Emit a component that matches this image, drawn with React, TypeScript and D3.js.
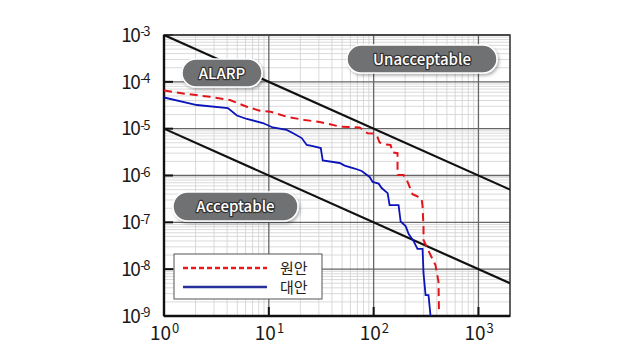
import React, { useEffect, useRef } from "react";
import * as d3 from "d3";

// axis ticks
const xTicks = [1, 10, 100, 1000];
const xTickExp = ["0", "1", "2", "3"];
const yTicks = [1e-3, 1e-4, 1e-5, 1e-6, 1e-7, 1e-8, 1e-9];
const yTickExp = ["-3", "-4", "-5", "-6", "-7", "-8", "-9"];

// 원안 (red dashed) F-N curve
const wonanX = [1, 1.66, 2.74, 4.25, 6.17, 8.2, 10.4, 14.8, 22, 30.6, 47.4, 73.6, 87.7, 100, 107, 114, 130, 145, 152, 169, 169, 193, 211, 235, 257, 287, 293, 299, 299, 349, 389, 416, 420];
const wonanY = [6.5e-5, 5.5e-5, 4.8e-5, 4.1e-5, 2.94e-5, 2.42e-5, 2.3e-5, 1.8e-5, 1.53e-5, 1.39e-5, 1.11e-5, 1.06e-5, 7.96e-6, 7.9e-6, 7.3e-6, 5.06e-6, 4.6e-6, 4.5e-6, 3.1e-6, 3.0e-6, 1.02e-6, 1.02e-6, 7.3e-7, 4.0e-7, 3.65e-7, 3.15e-7, 2.23e-7, 7.6e-8, 4.2e-8, 2.0e-8, 1.23e-8, 5.3e-9, 1.2e-9];

// 대안 (blue solid) F-N curve
const daeanX = [1, 2.06, 4.07, 4.96, 6.17, 8.77, 10.9, 14.8, 16.9, 20.6, 23, 25.7, 31.3, 32.7, 47.4, 52.9, 65.9, 76.9, 83.9, 91.6, 97.8, 111.6, 119.2, 136, 142, 173, 181, 202, 216, 240, 262, 293, 299, 313, 334, 349];
const daeanY = [4.63e-5, 3.2e-5, 2.76e-5, 1.91e-5, 1.61e-5, 1.32e-5, 1.06e-5, 9.4e-6, 8.1e-6, 6.3e-6, 4.5e-6, 4.27e-6, 3.86e-6, 2.09e-6, 1.85e-6, 1.63e-6, 1.41e-6, 1.25e-6, 1.08e-6, 9.3e-7, 7.3e-7, 6.7e-7, 5.4e-7, 4.2e-7, 2.34e-7, 2.34e-7, 1.04e-7, 8.3e-8, 5.6e-8, 4.0e-8, 2.7e-8, 2.7e-8, 8.3e-9, 2.8e-9, 2.8e-9, 1e-9];

// criteria lines
const limitX = [1, 2000];
const upperLimitY = [1e-3, 5e-7];
const lowerLimitY = [1e-5, 5e-9];

const regionLabels = ["Unacceptable", "ALARP", "Acceptable"];
const legendLabels = ["원안", "대안"];

const FONT = "'Noto Sans CJK KR', 'Noto Sans', sans-serif";

export default function App() {
  const ref = useRef<SVGSVGElement>(null);

  useEffect(() => {
    const svg = d3.select(ref.current);
    svg.selectAll("*").remove();

    const margin = { top: 35, left: 164 };
    const w = 346, h = 281;

    const g = svg.append("g").attr("transform", `translate(${margin.left},${margin.top})`);

    const x = d3.scaleLog().domain([1, 2000]).range([0, w]);
    const y = d3.scaleLog().domain([1e-9, 1e-3]).range([h, 0]);

    // minor grid
    const minorX: number[] = [];
    [1, 10, 100, 1000].forEach(d => { for (let k = 2; k <= 9; k++) if (d * k < 2000) minorX.push(d * k); });
    const minorY: number[] = [];
    yTicks.slice(1).forEach(d => { for (let k = 2; k <= 9; k++) minorY.push(d * k); });

    g.selectAll(".mx").data(minorX).join("line")
      .attr("x1", d => x(d)).attr("x2", d => x(d)).attr("y1", 0).attr("y2", h)
      .attr("stroke", "#d0d0d0").attr("stroke-width", 0.8);
    g.selectAll(".my").data(minorY).join("line")
      .attr("y1", d => y(d)).attr("y2", d => y(d)).attr("x1", 0).attr("x2", w)
      .attr("stroke", "#d0d0d0").attr("stroke-width", 0.8);

    // major grid
    g.append("g").selectAll("line").data(xTicks).join("line")
      .attr("x1", d => x(d)).attr("x2", d => x(d)).attr("y1", 0).attr("y2", h)
      .attr("stroke", "#666").attr("stroke-width", 1.3);
    g.append("g").selectAll("line").data(yTicks).join("line")
      .attr("y1", d => y(d)).attr("y2", d => y(d)).attr("x1", 0).attr("x2", w)
      .attr("stroke", "#666").attr("stroke-width", 1.3);

    // tick marks inward
    g.append("g").selectAll("line").data(yTicks).join("line")
      .attr("y1", d => y(d)).attr("y2", d => y(d)).attr("x1", 0).attr("x2", 9)
      .attr("stroke", "#111").attr("stroke-width", 2);
    g.append("g").selectAll("line").data(xTicks).join("line")
      .attr("x1", d => x(d)).attr("x2", d => x(d)).attr("y1", h).attr("y2", h - 9)
      .attr("stroke", "#111").attr("stroke-width", 2);

    // frame
    g.append("rect").attr("width", w).attr("height", h)
      .attr("fill", "none").attr("stroke", "#3a3a3a").attr("stroke-width", 1.6);
    g.append("line").attr("x1", 0).attr("x2", 0).attr("y1", 0).attr("y2", h)
      .attr("stroke", "#111").attr("stroke-width", 2.4);
    g.append("line").attr("x1", 0).attr("x2", w).attr("y1", h).attr("y2", h)
      .attr("stroke", "#111").attr("stroke-width", 2.4);

    g.append("clipPath").attr("id", "clip").append("rect").attr("width", w).attr("height", h);
    const plot = g.append("g").attr("clip-path", "url(#clip)");

    // criteria lines
    const lineFn = d3.line<number>().x((d, i) => x(limitX[i])).y(d => y(d));
    [upperLimitY, lowerLimitY].forEach(arr => {
      plot.append("path").attr("d", lineFn(arr)).attr("fill", "none")
        .attr("stroke", "#111").attr("stroke-width", 2.2);
    });

    // curves
    const curve = (xs: number[], ys: number[]) =>
      d3.line<number>().x(d => x(d)).y((d, i) => y(ys[i]))(xs);

    plot.append("path").attr("d", curve(daeanX, daeanY)).attr("fill", "none")
      .attr("stroke", "#0b14b8").attr("stroke-width", 1.8);
    plot.append("path").attr("d", curve(wonanX, wonanY)).attr("fill", "none")
      .attr("stroke", "#e3151b").attr("stroke-width", 2).attr("stroke-dasharray", "8,5");

    // region pills
    const pills = [
      { cx: 258, cy: 24, w: 150, h: 28 },
      { cx: 58, cy: 38, w: 80, h: 28 },
      { cx: 71.5, cy: 171.5, w: 125, h: 29 },
    ];
    const defs = svg.append("defs");
    const f = defs.append("filter").attr("id", "sh").attr("x", "-20%").attr("y", "-30%").attr("width", "140%").attr("height", "170%");
    f.append("feDropShadow").attr("dx", 1.5).attr("dy", 2).attr("stdDeviation", 1.5).attr("flood-color", "#000").attr("flood-opacity", 0.3);

    regionLabels.forEach((label, i) => {
      const p = pills[i];
      g.append("rect")
        .attr("x", p.cx - p.w / 2).attr("y", p.cy - p.h / 2)
        .attr("width", p.w).attr("height", p.h).attr("rx", p.h / 2)
        .attr("fill", "#707173").attr("stroke", "#fff").attr("stroke-width", 1.5)
        .attr("filter", "url(#sh)");
      g.append("text")
        .attr("x", p.cx).attr("y", p.cy + 5.5)
        .attr("text-anchor", "middle")
        .attr("font-family", FONT).attr("font-size", 15).attr("font-weight", 500)
        .attr("fill", "#fff").attr("stroke", "#333").attr("stroke-width", 2.4)
        .attr("paint-order", "stroke").attr("stroke-linejoin", "round")
        .text(label);
    });

    // legend
    const lg = g.append("g").attr("transform", "translate(10,219)");
    lg.append("rect").attr("width", 148).attr("height", 45)
      .attr("fill", "#fff").attr("stroke", "#555").attr("stroke-width", 1);
    const legendStyle = [
      { color: "#e8191f", dash: "5,3" },
      { color: "#27309a", dash: null },
    ];
    legendLabels.forEach((label, i) => {
      const yy = 14 + i * 19;
      lg.append("line").attr("x1", 9).attr("x2", 93).attr("y1", yy).attr("y2", yy)
        .attr("stroke", legendStyle[i].color).attr("stroke-width", 2.6)
        .attr("stroke-dasharray", legendStyle[i].dash);
      lg.append("text").attr("x", 106).attr("y", yy + 5.5)
        .attr("font-family", FONT).attr("font-size", 15).attr("fill", "#222")
        .text(label);
    });

    // y tick labels
    yTicks.forEach((d, i) => {
      const t = g.append("text")
        .attr("x", -15).attr("y", y(d) + 6.7)
        .attr("text-anchor", "end")
        .attr("font-family", FONT).attr("font-size", 19).attr("fill", "#1a1a1a")
        .attr("letter-spacing", -1.5);
      t.append("tspan").text("10");
      t.append("tspan").attr("dx", 1).attr("dy", -5.5).attr("font-size", 13).text(yTickExp[i]);
    });

    // x tick labels
    xTicks.forEach((d, i) => {
      const t = g.append("text")
        .attr("x", x(d) - 14).attr("y", h + 24)
        .attr("font-family", FONT).attr("font-size", 19).attr("fill", "#1a1a1a");
      t.append("tspan").text("10");
      t.append("tspan").attr("dx", 1).attr("dy", -7).attr("font-size", 13).text(xTickExp[i]);
    });
  }, []);

  return (
    <svg ref={ref} width={640} height={364}
      style={{ position: "absolute", left: 0, top: 0, background: "#fff" }} />
  );
}
